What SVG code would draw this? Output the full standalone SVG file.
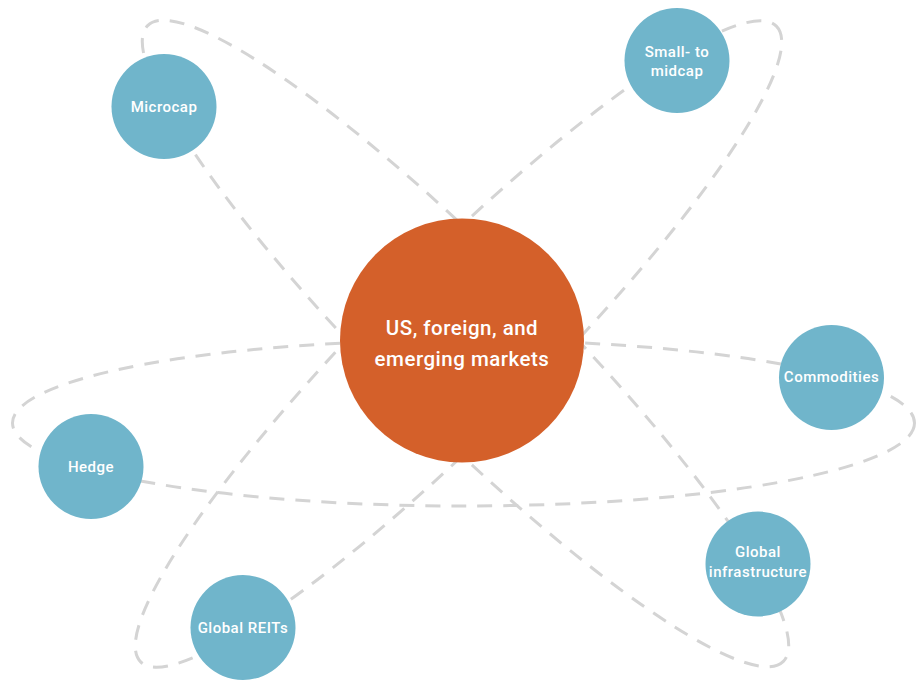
<svg xmlns="http://www.w3.org/2000/svg" width="922" height="683" viewBox="0 0 922 683">
  <style>
    .orbit { fill: none; stroke: #d4d4d4; stroke-width: 3; stroke-dasharray: 15 11; }
    .sat { fill: #70b5cb; }
    .hub { fill: #d4602a; }
    .lbl { fill: #ffffff; font-family: Roboto, "Liberation Sans", sans-serif; font-weight: 500; font-size: 15px; letter-spacing: 0.5px; text-anchor: middle; }
    .hub-lbl { font-size: 20.5px; letter-spacing: 0.5px; }
  </style>
  <rect width="922" height="683" fill="#ffffff"/>

  <!-- orbit paths behind the nodes -->
  <g id="connectors">
    <ellipse class="orbit" cx="463.5" cy="423" rx="451" ry="83"/>
    <ellipse class="orbit" cx="465.5" cy="343.5" rx="449.5" ry="83" transform="rotate(45 465.5 343.5)"/>
    <ellipse class="orbit" cx="458.5" cy="344" rx="449.5" ry="83" transform="rotate(-45 458.5 344)"/>
  </g>

  <g id="hub">
    <circle class="hub" cx="462" cy="340.5" r="122"/>
    <text class="lbl hub-lbl" x="462" y="335">US, foreign, and</text>
    <text class="lbl hub-lbl" x="462" y="366">emerging markets</text>
  </g>

  <g id="microcap">
    <circle class="sat" cx="164" cy="106.5" r="52.5"/>
    <text class="lbl" x="164" y="111.5">Microcap</text>
  </g>

  <g id="small-midcap">
    <circle class="sat" cx="677" cy="60.5" r="52.5"/>
    <text class="lbl" x="677" y="57">Small- to</text>
    <text class="lbl" x="677" y="76">midcap</text>
  </g>

  <g id="hedge">
    <circle class="sat" cx="91" cy="466.5" r="52.5"/>
    <text class="lbl" x="91" y="471.5">Hedge</text>
  </g>

  <g id="commodities">
    <circle class="sat" cx="831.5" cy="377.5" r="52.5"/>
    <text class="lbl" x="831.5" y="382">Commodities</text>
  </g>

  <g id="global-reits">
    <circle class="sat" cx="243" cy="627.5" r="52.5"/>
    <text class="lbl" x="243" y="632.5">Global REITs</text>
  </g>

  <g id="global-infrastructure">
    <circle class="sat" cx="758" cy="564" r="52.5"/>
    <text class="lbl" x="758" y="557">Global</text>
    <text class="lbl" x="758" y="576.5">infrastructure</text>
  </g>
</svg>
